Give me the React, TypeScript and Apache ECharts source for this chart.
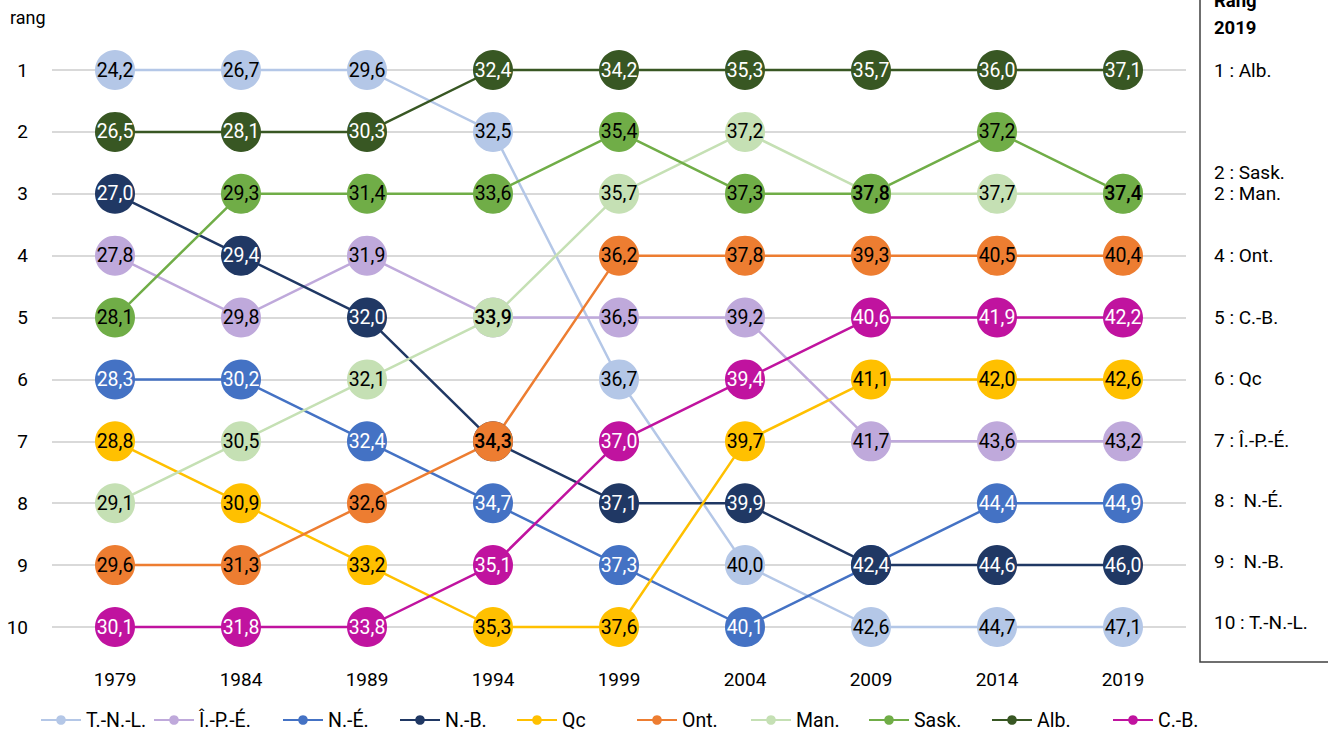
import React, { useEffect, useRef } from "react";
import * as echarts from "echarts";

const years = ["1979", "1984", "1989", "1994", "1999", "2004", "2009", "2014", "2019"];
const provinces = ["T.-N.-L.", "Î.-P.-É.", "N.-É.", "N.-B.", "Qc", "Ont.", "Man.", "Sask.", "Alb.", "C.-B."];
const colors = ["#B4C7E7", "#BFA9DB", "#4472C4", "#203864", "#FFC000", "#ED7D31", "#C5E0B4", "#70AD47", "#385723", "#C0139F"];
const labelColors = ["#000", "#000", "#fff", "#fff", "#000", "#000", "#000", "#000", "#fff", "#fff"];

const rankTNL = [1, 1, 1, 2, 6, 9, 10, 10, 10];
const rankIPE = [4, 5, 4, 5, 5, 5, 7, 7, 7];
const rankNE = [6, 6, 7, 8, 9, 10, 9, 8, 8];
const rankNB = [3, 4, 5, 7, 8, 8, 9, 9, 9];
const rankQc = [7, 8, 9, 10, 10, 7, 6, 6, 6];
const rankOnt = [9, 9, 8, 7, 4, 4, 4, 4, 4];
const rankMan = [8, 7, 6, 5, 3, 2, 3, 3, 3];
const rankSask = [5, 3, 3, 3, 2, 3, 3, 2, 3];
const rankAlb = [2, 2, 2, 1, 1, 1, 1, 1, 1];
const rankCB = [10, 10, 10, 9, 7, 6, 5, 5, 5];

const ageTNL = [24.2, 26.7, 29.6, 32.5, 36.7, 40.0, 42.6, 44.7, 47.1];
const ageIPE = [27.8, 29.8, 31.9, 33.9, 36.5, 39.2, 41.7, 43.6, 43.2];
const ageNE = [28.3, 30.2, 32.4, 34.7, 37.3, 40.1, 42.4, 44.4, 44.9];
const ageNB = [27.0, 29.4, 32.0, 34.3, 37.1, 39.9, 42.4, 44.6, 46.0];
const ageQc = [28.8, 30.9, 33.2, 35.3, 37.6, 39.7, 41.1, 42.0, 42.6];
const ageOnt = [29.6, 31.3, 32.6, 34.3, 36.2, 37.8, 39.3, 40.5, 40.4];
const ageMan = [29.1, 30.5, 32.1, 33.9, 35.7, 37.2, 37.8, 37.7, 37.4];
const ageSask = [28.1, 29.3, 31.4, 33.6, 35.4, 37.3, 37.8, 37.2, 37.4];
const ageAlb = [26.5, 28.1, 30.3, 32.4, 34.2, 35.3, 35.7, 36.0, 37.1];
const ageCB = [30.1, 31.8, 33.8, 35.1, 37.0, 39.4, 40.6, 41.9, 42.2];

const yTicks = ["1", "2", "3", "4", "5", "6", "7", "8", "9", "10"];
const rank2019Labels = ["1 : Alb.", "2 : Sask.", "2 : Man.", "4 : Ont.", "5 : C.-B.", "6 : Qc", "7 : Î.-P.-É.", "8 :  N.-É.", "9 :  N.-B.", "10 : T.-N.-L."];

const ranks = [rankTNL, rankIPE, rankNE, rankNB, rankQc, rankOnt, rankMan, rankSask, rankAlb, rankCB];
const ages = [ageTNL, ageIPE, ageNE, ageNB, ageQc, ageOnt, ageMan, ageSask, ageAlb, ageCB];

// layout (positions only)
const rank2019Y = [70, 172, 193, 255, 317, 378, 440, 500, 561, 622];
const legendLeft = [40, 153, 282, 399, 516, 636, 750, 868, 991, 1112];

const FONT = "'Liberation Sans Narrow', Roboto, sans-serif";

function fmt(v: number) {
  return v.toFixed(1).replace(".", ",");
}

export default function App() {
  const ref = useRef<HTMLDivElement>(null);
  useEffect(() => {
    if (!ref.current) return;
    const chart = echarts.init(ref.current, undefined, { renderer: "svg" });

    const series = provinces.map((name, i) => ({
      name,
      type: "line",
      clip: false,
      symbol: "circle",
      symbolSize: 40,
      color: colors[i],
      lineStyle: { width: 2.5, color: colors[i] },
      itemStyle: { color: colors[i] },
      emphasis: { disabled: true },
      z: 2,
      data: ranks[i].map((r, j) => {
        let covered = false;
        let tieBelow = false;
        for (let k = 0; k < provinces.length; k++) {
          if (k !== i && ranks[k][j] === r) {
            if (k > i) covered = true;
            else tieBelow = true;
          }
        }
        return {
          value: r,
          label: {
            show: !covered,
            formatter: fmt(ages[i][j]),
            fontWeight: tieBelow && labelColors[i] === "#000" ? 500 : "normal",
          },
        };
      }),
      label: {
        show: true,
        position: "inside",
        color: labelColors[i],
        fontSize: 19.5,
        fontFamily: FONT,
      },
    }));

    const legends = provinces.map((name, i) => ({
      data: [name],
      left: legendLeft[i],
      top: 710,
      itemWidth: 40,
      itemHeight: 12,
      itemGap: 5,
      padding: 0,
      textStyle: { fontSize: 19.5, fontFamily: FONT, color: "#000" },
      selectedMode: false,
    }));

    const graphics: any[] = [
      {
        type: "text",
        left: 10,
        top: 8,
        style: { text: "rang", fontSize: 18, fontFamily: FONT, fill: "#000" },
      },
      {
        type: "rect",
        shape: { x: 1200, y: -10, width: 200, height: 672 },
        style: { fill: "none", stroke: "#404040", lineWidth: 1.5 },
      },
      {
        type: "text",
        x: 1214,
        y: -13,
        style: { text: "Rang\n2019", fontSize: 18.5, fontWeight: "bold", lineHeight: 27, fontFamily: FONT, fill: "#000" },
      },
      ...rank2019Labels.map((t, i) => ({
        type: "text",
        x: 1214,
        y: rank2019Y[i],
        style: { text: t, fontSize: 19, fontFamily: FONT, fill: "#000", verticalAlign: "middle" },
      })),
    ];

    chart.setOption({
      animation: false,
      backgroundColor: "#fff",
      grid: { left: 52, width: 1134, top: 70, bottom: 104, containLabel: false },
      xAxis: {
        type: "category",
        data: years,
        boundaryGap: true,
        axisLine: { show: false },
        axisTick: { show: false },
        axisLabel: { margin: 43, fontSize: 19, fontFamily: FONT, color: "#000" },
        splitLine: { show: false },
      },
      yAxis: {
        type: "value",
        inverse: true,
        min: 1,
        max: 10,
        interval: 1,
        axisLine: { show: false },
        axisTick: { show: false },
        axisLabel: {
          margin: 24,
          fontSize: 19,
          fontFamily: FONT,
          color: "#000",
          formatter: (v: number) => yTicks[v - 1] ?? "",
        },
        splitLine: { show: true, lineStyle: { color: "#D9D9D9", width: 2 } },
      },
      legend: legends,
      series,
      graphic: graphics,
    });
    return () => chart.dispose();
  }, []);
  return <div ref={ref} style={{ position: "fixed", left: 0, top: 0, width: 1328, height: 731 }} />;
}
